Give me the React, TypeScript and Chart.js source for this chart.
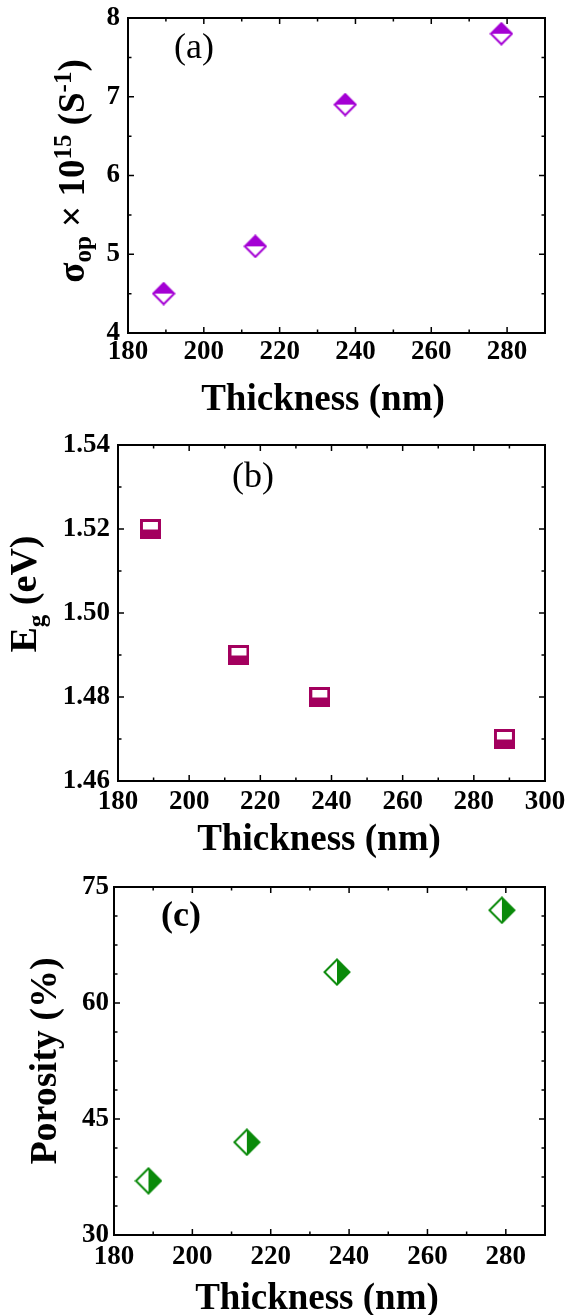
import React, { useEffect, useRef } from 'react';
import { Chart, registerables } from 'chart.js';

Chart.register(...registerables);

// ---------- data ----------
const thicknessA = [189.4, 213.6, 237.3, 278.5];
const sigmaOp = [4.5, 5.1, 6.9, 7.8];
const thicknessB = [189.1, 214.0, 236.7, 288.6];
const bandGap = [1.52, 1.49, 1.48, 1.47];
const thicknessC = [188.8, 213.9, 236.9, 279.0];
const porosity = [37, 42, 64, 72];

const xTicksA = [180, 200, 220, 240, 260, 280];
const yTicksA = [4, 5, 6, 7, 8];
const xTicksB = [180, 200, 220, 240, 260, 280, 300];
const yTicksB = [1.46, 1.48, 1.5, 1.52, 1.54];
const xTicksC = [180, 200, 220, 240, 260, 280];
const yTicksC = [30, 45, 60, 75];

const W = 566;
const SERIF = '"Liberation Serif", "Times New Roman", serif';

type Part = { t: string; size: number; shift: number };

type Panel = {
  top: number;
  height: number;
  area: { left: number; right: number; top: number; bottom: number };
  xs: number[];
  ys: number[];
  xMin: number; xMax: number; yMin: number; yMax: number;
  xTicks: number[]; yTicks: number[];
  xMinor: number; yMinor: number;
  xPad: number; yPad: number;
  decimals: number;
  color: string;
  marker: 'diamondTop' | 'squareBottom' | 'diamondRight';
  yTitle: Part[]; yTitleX: number; yTitleCY: number;
  xTitle: string; xTitleCX: number; xTitleBase: number;
  label: string; labelX: number; labelY: number; labelBold: boolean;
};

const panels: Panel[] = [
  {
    top: 0, height: 430,
    area: { left: 128, right: 545, top: 18, bottom: 333 },
    xs: thicknessA, ys: sigmaOp,
    xMin: 180, xMax: 290, yMin: 4, yMax: 8,
    xTicks: xTicksA, yTicks: yTicksA, xMinor: 10, yMinor: 0.5,
    xPad: 3, yPad: 8, decimals: 0,
    color: '#A400D4', marker: 'diamondTop',
    yTitle: [
      { t: 'σ', size: 37, shift: 0 },
      { t: 'op', size: 25, shift: 7 },
      { t: ' × 10', size: 37, shift: 0 },
      { t: '15', size: 25, shift: -13 },
      { t: ' (S', size: 37, shift: 0 },
      { t: '-1', size: 25, shift: -13 },
      { t: ')', size: 37, shift: 0 },
    ],
    yTitleX: 84, yTitleCY: 171,
    xTitle: 'Thickness (nm)', xTitleCX: 323, xTitleBase: 410,
    label: '(a)', labelX: 194, labelY: 49, labelBold: false,
  },
  {
    top: 430, height: 430,
    area: { left: 118, right: 545, top: 15, bottom: 351 },
    xs: thicknessB, ys: bandGap,
    xMin: 180, xMax: 300, yMin: 1.46, yMax: 1.54,
    xTicks: xTicksB, yTicks: yTicksB, xMinor: 10, yMinor: 0.01,
    xPad: 5, yPad: 8, decimals: 2,
    color: '#A3005E', marker: 'squareBottom',
    yTitle: [
      { t: 'E', size: 38, shift: 0 },
      { t: 'g', size: 25, shift: 9 },
      { t: ' (eV)', size: 38, shift: 0 },
    ],
    yTitleX: 36, yTitleCY: 164,
    xTitle: 'Thickness (nm)', xTitleCX: 319, xTitleBase: 420,
    label: '(b)', labelX: 253, labelY: 48, labelBold: false,
  },
  {
    top: 860, height: 455,
    area: { left: 114, right: 545, top: 27, bottom: 375 },
    xs: thicknessC, ys: porosity,
    xMin: 180, xMax: 290, yMin: 30, yMax: 75,
    xTicks: xTicksC, yTicks: yTicksC, xMinor: 10, yMinor: 3.75,
    xPad: 6, yPad: 5, decimals: 0,
    color: '#0A8A0A', marker: 'diamondRight',
    yTitle: [{ t: 'Porosity (%)', size: 38, shift: 0 }],
    yTitleX: 56, yTitleCY: 201,
    xTitle: 'Thickness (nm)', xTitleCX: 317, xTitleBase: 449,
    label: '(c)', labelX: 181, labelY: 57, labelBold: true,
  },
];

function makeMarker(kind: Panel['marker'], color: string): HTMLCanvasElement {
  const c = document.createElement('canvas');
  const g = c.getContext('2d') as CanvasRenderingContext2D;
  if (kind === 'squareBottom') {
    c.width = 21; c.height = 20;
    g.fillStyle = color;
    g.fillRect(0, 0, 21, 20);
    g.fillStyle = '#fff';
    g.fillRect(3, 3, 15, 7.5);
    return c;
  }
  const s = kind === 'diamondTop' ? 24 : 28;
  c.width = s; c.height = s;
  const m = 1.5, h = s / 2;
  const outline = () => {
    g.beginPath();
    g.moveTo(h, m); g.lineTo(s - m, h); g.lineTo(h, s - m); g.lineTo(m, h); g.closePath();
  };
  outline();
  g.fillStyle = '#fff';
  g.fill();
  g.beginPath();
  if (kind === 'diamondTop') {
    g.moveTo(m, h); g.lineTo(h, m); g.lineTo(s - m, h);
  } else {
    g.moveTo(h, m); g.lineTo(s - m, h); g.lineTo(h, s - m);
  }
  g.closePath();
  g.fillStyle = color;
  g.fill();
  outline();
  g.strokeStyle = color;
  g.lineWidth = 2;
  g.stroke();
  return c;
}

function decorPlugin(p: Panel) {
  return {
    id: 'panelDecor',
    afterDraw(chart: any) {
      const ctx: CanvasRenderingContext2D = chart.ctx;
      const { left, right, top, bottom } = chart.chartArea;
      const xs = chart.scales.x;
      const ys = chart.scales.y;
      ctx.save();
      ctx.strokeStyle = '#000';
      // ticks (inward, all four sides)
      ctx.lineWidth = 1.5;
      const major = 6, minor = 3.5;
      const drawX = (v: number, len: number) => {
        const px = xs.getPixelForValue(v);
        ctx.beginPath();
        ctx.moveTo(px, bottom); ctx.lineTo(px, bottom - len);
        ctx.moveTo(px, top); ctx.lineTo(px, top + len);
        ctx.stroke();
      };
      const drawY = (v: number, len: number) => {
        const py = ys.getPixelForValue(v);
        ctx.beginPath();
        ctx.moveTo(left, py); ctx.lineTo(left + len, py);
        ctx.moveTo(right, py); ctx.lineTo(right - len, py);
        ctx.stroke();
      };
      const nx = Math.round((p.xMax - p.xMin) / p.xMinor);
      for (let i = 0; i <= nx; i++) {
        const v = p.xMin + i * p.xMinor;
        const isMajor = p.xTicks.some((t) => Math.abs(t - v) < 1e-6);
        drawX(v, isMajor ? major : minor);
      }
      const ny = Math.round((p.yMax - p.yMin) / p.yMinor);
      for (let i = 0; i <= ny; i++) {
        const v = p.yMin + i * p.yMinor;
        const isMajor = p.yTicks.some((t) => Math.abs(t - v) < 1e-6);
        drawY(v, isMajor ? major : minor);
      }
      // frame
      ctx.lineWidth = 2;
      ctx.strokeRect(left, top, right - left, bottom - top);

      ctx.fillStyle = '#000';
      ctx.textBaseline = 'alphabetic';
      // x title
      ctx.font = `bold 37px ${SERIF}`;
      ctx.textAlign = 'center';
      ctx.fillText(p.xTitle, p.xTitleCX, p.xTitleBase);

      // y title (rotated, with sub/superscripts)
      ctx.textAlign = 'left';
      let total = 0;
      const widths = p.yTitle.map((part) => {
        ctx.font = `bold ${part.size}px ${SERIF}`;
        const w = ctx.measureText(part.t).width;
        total += w;
        return w;
      });
      ctx.save();
      ctx.translate(p.yTitleX, p.yTitleCY);
      ctx.rotate(-Math.PI / 2);
      let u = -total / 2;
      p.yTitle.forEach((part, i) => {
        ctx.font = `bold ${part.size}px ${SERIF}`;
        ctx.fillText(part.t, u, part.shift);
        u += widths[i];
      });
      ctx.restore();

      // panel label
      ctx.font = `${p.labelBold ? 'bold ' : ''}36px ${SERIF}`;
      ctx.textAlign = 'center';
      ctx.textBaseline = 'middle';
      ctx.fillText(p.label, p.labelX, p.labelY);
      ctx.restore();
    },
  };
}

function PanelChart({ p }: { p: Panel }) {
  const ref = useRef<HTMLCanvasElement | null>(null);
  useEffect(() => {
    if (!ref.current) return;
    const marker = makeMarker(p.marker, p.color);
    const tickFont = { family: SERIF, size: 27, weight: 'bold' as const };
    const chart = new Chart(ref.current, {
      type: 'scatter',
      data: {
        datasets: [
          {
            data: p.xs.map((x, i) => ({ x, y: p.ys[i] })),
            pointStyle: marker as any,
            pointRadius: 12,
            pointHoverRadius: 12,
            backgroundColor: p.color,
            borderColor: p.color,
            clip: false as any,
          },
        ],
      },
      options: {
        animation: false,
        responsive: false,
        devicePixelRatio: 1,
        events: [],
        layout: {
          padding: { left: 0, right: W - p.area.right, top: p.area.top, bottom: 0 },
        },
        plugins: {
          legend: { display: false },
          tooltip: { enabled: false },
          title: { display: false },
        },
        scales: {
          x: {
            type: 'linear',
            min: p.xMin,
            max: p.xMax,
            afterBuildTicks: (s: any) => {
              s.ticks = p.xTicks.map((value) => ({ value }));
            },
            afterFit: (s: any) => {
              s.height = p.height - p.area.bottom;
              s.paddingLeft = 0; s.paddingRight = 0; s.paddingTop = 0; s.paddingBottom = 0;
            },
            grid: { display: false, drawTicks: false, tickLength: 0 },
            border: { display: false },
            ticks: {
              color: '#000',
              font: tickFont,
              padding: p.xPad,
              maxRotation: 0,
              autoSkip: false,
              callback: (v: any) => String(Number(v)),
            },
          },
          y: {
            type: 'linear',
            min: p.yMin,
            max: p.yMax,
            afterBuildTicks: (s: any) => {
              s.ticks = p.yTicks.map((value) => ({ value }));
            },
            afterFit: (s: any) => {
              s.width = p.area.left;
              s.paddingLeft = 0; s.paddingRight = 0; s.paddingTop = 0; s.paddingBottom = 0;
            },
            grid: { display: false, drawTicks: false, tickLength: 0 },
            border: { display: false },
            ticks: {
              color: '#000',
              font: tickFont,
              padding: p.yPad,
              autoSkip: false,
              callback: (v: any) => Number(v).toFixed(p.decimals),
            },
          },
        },
      } as any,
      plugins: [decorPlugin(p)],
    });
    return () => chart.destroy();
  }, [p]);
  return (
    <div style={{ position: 'absolute', left: 0, top: p.top, width: W, height: p.height }}>
      <canvas ref={ref} width={W} height={p.height} style={{ width: W, height: p.height, display: 'block' }} />
    </div>
  );
}

export default function App() {
  return (
    <div style={{ position: 'absolute', left: 0, top: 0, width: W, height: 1315, background: '#fff', overflow: 'hidden' }}>
      {panels.map((p, i) => (
        <PanelChart key={i} p={p} />
      ))}
    </div>
  );
}
